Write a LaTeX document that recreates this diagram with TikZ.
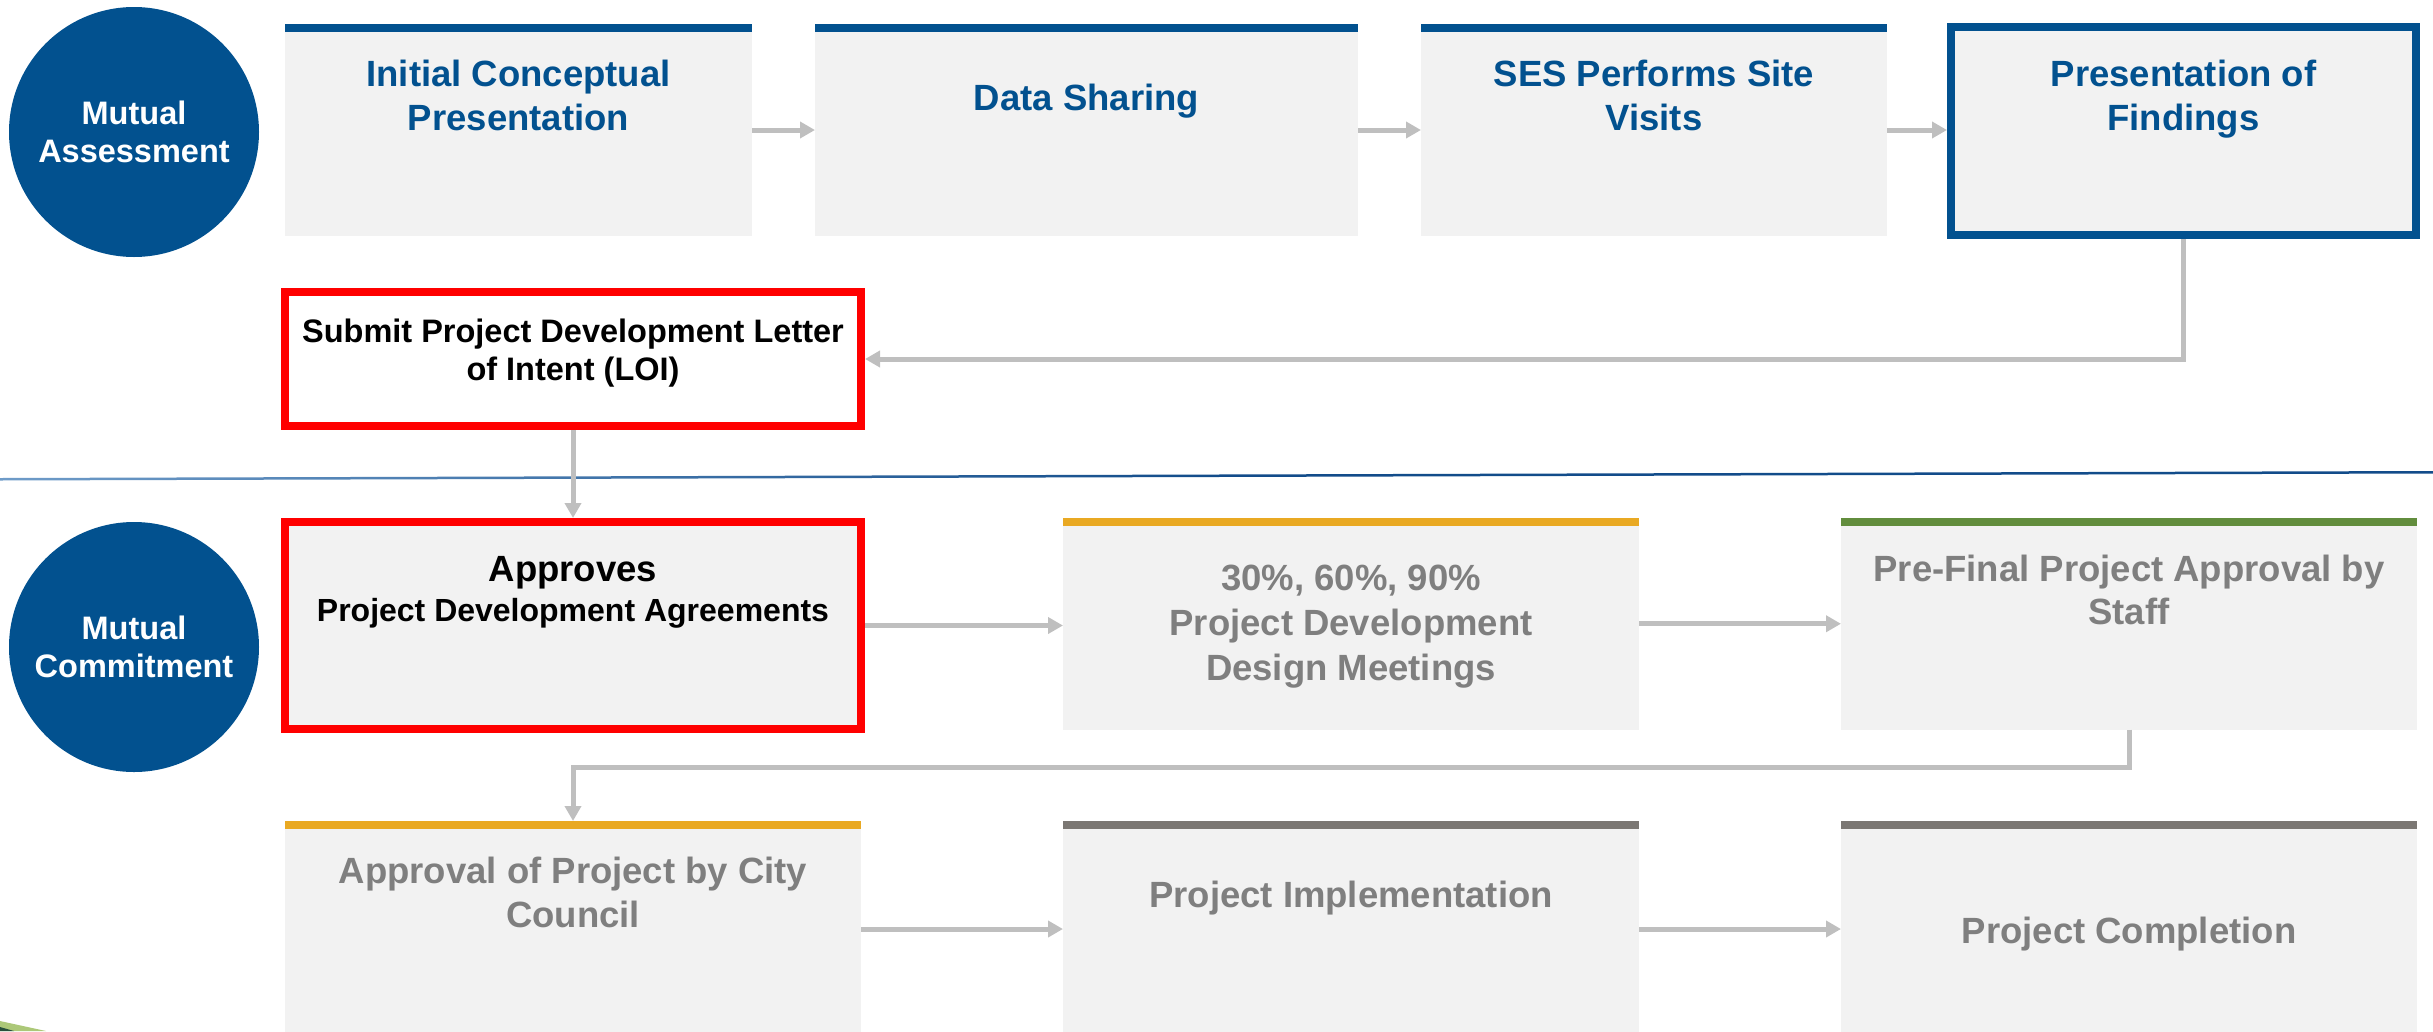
\documentclass[tikz,border=0pt]{standalone}
\usepackage{fontspec}
\setmainfont{Liberation Sans}
\usetikzlibrary{arrows.meta}

\definecolor{sesblue}{RGB}{2,81,143}
\definecolor{panel}{RGB}{242,242,242}
\definecolor{linkgray}{RGB}{191,191,191}
\definecolor{gold}{RGB}{233,169,35}
\definecolor{leaf}{RGB}{98,141,61}
\definecolor{slate}{RGB}{123,119,115}
\definecolor{mutedtext}{RGB}{127,127,127}
\definecolor{alertred}{RGB}{255,0,0}
\definecolor{divlight}{RGB}{110,155,200}
\definecolor{divdark}{RGB}{18,76,138}
\definecolor{sliver}{RGB}{172,200,120}
\definecolor{sliverdark}{RGB}{40,80,60}

\begin{document}
\begin{tikzpicture}[x=1pt,y=-1pt,
  panelbox/.style={fill=panel, draw=none, inner sep=0pt, outer sep=0pt, anchor=north west},
  topbar/.style={path picture={\fill[#1] (path picture bounding box.north west) rectangle ([yshift=-8pt]path picture bounding box.north east);}},
  framebox/.style={fill=panel, draw=#1, line width=8pt, inner sep=0pt, outer sep=4pt, anchor=north west},
  phase/.style={circle, fill=sesblue, draw=none, minimum size=250pt, inner sep=0pt},
  lbl/.style={align=center, inner sep=0pt, execute at begin node=\strut, execute at end node=\strut},
  bluetxt/.style={lbl, text=sesblue, font=\fontsize{36.5}{43.5}\selectfont\bfseries},
  phasetxt/.style={lbl, text=white, font=\fontsize{32.5}{38.3}\selectfont\bfseries},
  blacktxt/.style={lbl, text=black, font=\fontsize{32.5}{38.4}\selectfont\bfseries},
  greytxt/.style={lbl, text=mutedtext, font=\fontsize{36.5}{#1}\selectfont\bfseries},
  link/.style={draw=linkgray, line width=5pt, -{Triangle[length=15pt,width=16pt]}}
]
\useasboundingbox (0,0) rectangle (2433,1031);
\clip (0,0) rectangle (2433,1031);

% divider between the two phases
\shade[left color=divlight, right color=divdark, middle color=divdark]
  (0,478) -- (2433,471) -- (2433,473.5) -- (0,480.5) -- cycle;

% corner graphic at the lower left
\fill[sliver] (0,1021) -- (46,1031) -- (0,1031) -- cycle;
\fill[sliverdark] (0,1027) -- (14,1031) -- (0,1031) -- cycle;

% phase markers
\node[phase] (assess) at (134,132) {};
\node[phasetxt] (assesstxt) at (134,137.5) {Mutual\\Assessment};
\node[phase] (commit) at (134,647) {};
\node[phasetxt] (committxt) at (134,652.5) {Mutual\\Commitment};

% assessment row
\node[panelbox, topbar=sesblue, minimum width=467pt, minimum height=212pt] (icp) at (285,24) {};
\node[panelbox, topbar=sesblue, minimum width=543pt, minimum height=212pt] (data) at (815,24) {};
\node[panelbox, topbar=sesblue, minimum width=466pt, minimum height=212pt] (site) at (1421,24) {};
\node[framebox=sesblue, minimum width=465pt, minimum height=208pt] (find) at (1947,23) {};

\node[bluetxt] (icptxt) at (518.5,102) {Initial Conceptual\\Presentation};
\node[bluetxt] (datatxt) at (1086.5,102) {Data Sharing};
\node[bluetxt] (sitetxt) at (1654,102) {SES Performs Site\\Visits};
\node[bluetxt] (findtxt) at (2183.5,102) {Presentation of\\Findings};

% letter of intent
\node[framebox=alertred, fill=white, minimum width=576pt, minimum height=134pt] (loi) at (281,288) {};
\node[blacktxt] (loitxt) at (573,355.5) {Submit Project Development Letter\\of Intent (LOI)};

% commitment rows
\node[framebox=alertred, minimum width=576pt, minimum height=207pt] (pda) at (281,518) {};
\node[anchor=base, inner sep=0pt, font=\fontsize{36.5}{43.5}\selectfont\bfseries] (pdatop) at (573,581.3) {Approves};
\node[anchor=base, inner sep=0pt, font=\fontsize{32}{38}\selectfont\bfseries] (pdasub) at (573,621) {Project Development Agreements};

\node[panelbox, topbar=gold, minimum width=576pt, minimum height=211.5pt] (design) at (1063,518) {};
\node[panelbox, topbar=leaf, minimum width=576pt, minimum height=211.5pt] (prefinal) at (1841,518) {};
\node[panelbox, topbar=gold, minimum width=576pt, minimum height=216pt] (council) at (285,821) {};
\node[panelbox, topbar=slate, minimum width=576pt, minimum height=216pt] (impl) at (1063,821) {};
\node[panelbox, topbar=slate, minimum width=576pt, minimum height=216pt] (done) at (1841,821) {};

\node[greytxt=45.2] (designtxt) at (1351,629.5) {30\%, 60\%, 90\%\\Project Development\\Design Meetings};
\node[greytxt=43.4] (prefinaltxt) at (2129,596) {Pre-Final Project Approval by\\Staff};
\node[greytxt=44.5] (counciltxt) at (573,899) {Approval of Project by City\\Council};
\node[anchor=base, inner sep=0pt, text=mutedtext, font=\fontsize{36.5}{43.5}\selectfont\bfseries] (impltxt) at (1351,907.4) {Project Implementation};
\node[anchor=base, inner sep=0pt, text=mutedtext, font=\fontsize{36.5}{43.5}\selectfont\bfseries] (donetxt) at (2129,943.2) {Project Completion};

% connectors
\draw[link] (icp.east) -- (data.west);
\draw[link] (data.east) -- (site.west);
\draw[link] (site.east) -- (site.east -| find.west);
\draw[link] (find.south) |- (loi.east);
\draw[link] (loi.south) -- (pda.north);
\draw[link] (pda.east) -- (pda.east -| design.west);
\draw[link] (design.east) -- (prefinal.west);
\draw[link] (prefinal.south) -- ++(0,37.5) -| (council.north);
\draw[link] (council.east) -- (impl.west);
\draw[link] (impl.east) -- (done.west);
\end{tikzpicture}
\end{document}
